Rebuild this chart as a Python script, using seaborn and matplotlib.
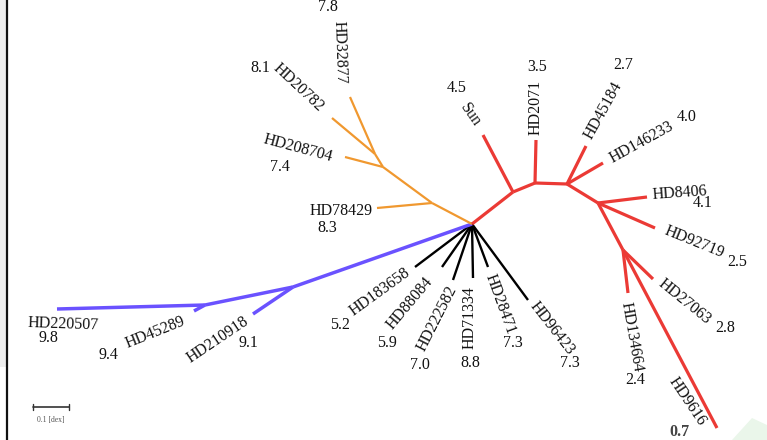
import matplotlib
matplotlib.use("Agg")
import matplotlib.pyplot as plt
import seaborn as sns
import pandas as pd

sns.set_theme(style="white")
plt.rcParams["font.family"] = ["Liberation Serif", "DejaVu Serif"]

# ---- data: stars and their ages (Gyr) per clade ----
red_stars = ["Sun", "HD2071", "HD45184", "HD146233", "HD8406", "HD92719",
             "HD27063", "HD134664", "HD9616"]
red_ages = [4.5, 3.5, 2.7, 4.0, 4.1, 2.5, 2.8, 2.4, 0.7]

orange_stars = ["HD78429", "HD208704", "HD20782", "HD32877"]
orange_ages = [8.3, 7.4, 8.1, 7.8]

blue_stars = ["HD210918", "HD45289", "HD220507"]
blue_ages = [9.1, 9.4, 9.8]

black_stars = ["HD183658", "HD88084", "HD222582", "HD71334", "HD28471", "HD96423"]
black_ages = [5.2, 5.9, 7.0, 8.8, 7.3, 7.3]

# ---- tree topology (parent, child) ----
edges = [
    ("root", "r1"), ("r1", "Sun"), ("r1", "r2"), ("r2", "HD2071"), ("r2", "r3"),
    ("r3", "HD45184"), ("r3", "HD146233"), ("r3", "r4"), ("r4", "HD8406"),
    ("r4", "HD92719"), ("r4", "r5"), ("r5", "HD27063"), ("r5", "HD134664"),
    ("r5", "HD9616"),
    ("root", "o1"), ("o1", "HD78429"), ("o1", "o2"), ("o2", "HD208704"),
    ("o2", "o3"), ("o3", "HD20782"), ("o3", "HD32877"),
    ("root", "b1"), ("b1", "HD210918"), ("b1", "b2"), ("b2", "HD45289"),
    ("b2", "HD220507"),
    ("root", "HD183658"), ("root", "HD88084"), ("root", "HD222582"),
    ("root", "HD71334"), ("root", "HD28471"), ("root", "HD96423"),
]

# ---- unrooted layout (canvas units) ----
node_xy = {
    "root": (472, 224),
    "r1": (513, 192), "r2": (535, 183), "r3": (567, 184), "r4": (598, 203),
    "r5": (623, 250),
    "Sun": (483, 135), "HD2071": (536, 140), "HD45184": (586, 146),
    "HD146233": (603, 163), "HD8406": (647, 197), "HD92719": (655, 228),
    "HD27063": (653, 279), "HD134664": (628, 293), "HD9616": (717, 428),
    "o1": (432, 203), "o2": (383, 167), "o3": (375, 154),
    "HD78429": (377, 208), "HD208704": (345, 157), "HD20782": (332, 118),
    "HD32877": (350, 97),
    "b1": (293, 287), "b2": (205, 305),
    "HD210918": (253, 314), "HD45289": (194, 311), "HD220507": (57, 309),
    "HD183658": (415, 267), "HD88084": (442, 267), "HD222582": (453, 280),
    "HD71334": (473, 278), "HD28471": (488, 267), "HD96423": (528, 300),
}

# name label (x, y, rotation) and age label (x, y)
name_pos = {
    "Sun": (470, 115, -55), "HD2071": (536, 107, 90), "HD45184": (603, 110, 61),
    "HD146233": (642, 142, 29), "HD8406": (680, 193, 4), "HD92719": (694, 242, -22),
    "HD27063": (685, 302, -39), "HD134664": (632, 337, -80), "HD9616": (687, 402, -56),
    "HD78429": (341, 211, 0), "HD208704": (298, 148, -15), "HD20782": (298, 88, -43),
    "HD32877": (340, 52, -88),
    "HD210918": (218, 340, 34), "HD45289": (155, 332, 22), "HD220507": (63, 324, -2),
    "HD183658": (380, 292, 36), "HD88084": (410, 303, 50), "HD222582": (437, 318, 63),
    "HD71334": (470, 318, 90), "HD28471": (500, 304, -70), "HD96423": (552, 328, -52),
}
age_pos = {
    "Sun": (457, 88), "HD2071": (537, 67), "HD45184": (623, 65), "HD146233": (687, 117),
    "HD8406": (703, 203), "HD92719": (737, 262), "HD27063": (725, 328),
    "HD134664": (635, 380), "HD9616": (679, 432),
    "HD78429": (327, 228), "HD208704": (280, 167), "HD20782": (260, 68),
    "HD32877": (328, 7),
    "HD210918": (248, 343), "HD45289": (108, 355), "HD220507": (48, 338),
    "HD183658": (340, 325), "HD88084": (387, 343), "HD222582": (420, 365),
    "HD71334": (470, 363), "HD28471": (513, 343), "HD96423": (570, 363),
}

clade_colors = {"red": "#eb3a35", "orange": "#f0982f", "blue": "#6a52ff", "black": "#000000"}
clade_width = {"red": 2.3, "orange": 1.6, "blue": 2.5, "black": 1.7}


def clade_of(node):
    if node in red_stars or (node.startswith("r") and node != "root"):
        return "red"
    if node in orange_stars or node.startswith("o"):
        return "orange"
    if node in blue_stars or node.startswith("b"):
        return "blue"
    return "black"


rows = []
for i, (p, c) in enumerate(edges):
    cl = clade_of(c)
    for n in (p, c):
        rows.append({"x": node_xy[n][0], "y": node_xy[n][1], "seg": i, "clade": cl})
seg_df = pd.DataFrame(rows)

fig = plt.figure(figsize=(7.67, 4.40), dpi=100)
ax = fig.add_axes([0, 0, 1, 1])
ax.set_xlim(0, 767)
ax.set_ylim(440, 0)
ax.axis("off")

for cl, sub in seg_df.groupby("clade"):
    sns.lineplot(data=sub, x="x", y="y", units="seg", estimator=None, sort=False,
                 color=clade_colors[cl], lw=clade_width[cl], ax=ax, legend=False,
                 solid_capstyle="butt")

all_stars = red_stars + orange_stars + blue_stars + black_stars
all_ages = red_ages + orange_ages + blue_ages + black_ages
for star, age in zip(all_stars, all_ages):
    nx, ny, rot = name_pos[star]
    ax.text(nx, ny, star, ha="center", va="center", rotation=rot,
            rotation_mode="anchor", fontsize=11.5, color="#111111")
    axx, ayy = age_pos[star]
    col = "#444444" if star == "HD9616" else "#111111"
    wt = "bold" if star == "HD9616" else "normal"
    ax.text(axx, ayy, f"{age:.1f}", ha="center", va="center",
            fontsize=11.5, color=col, fontweight=wt)

# scale bar
ax.plot([33, 69], [407, 407], color="#333333", lw=1.2)
ax.plot([33, 33], [404, 410], color="#333333", lw=1.0)
ax.plot([69, 69], [404, 410], color="#333333", lw=1.0)
ax.text(51, 420, "0.1 [dex]", ha="center", va="center", fontsize=5.5, color="#555555")

# page frame on the left and faint corner tint
ax.fill_between([0, 6], [0, 0], [367, 367], color="#eeeeee", lw=0)
ax.plot([7, 7], [0, 440], color="#111111", lw=1.6)
ax.fill([732, 752, 767, 767, 740], [440, 418, 425, 440, 440], color="#eaf6ea", lw=0)

fig.savefig("out.png", dpi=100)
